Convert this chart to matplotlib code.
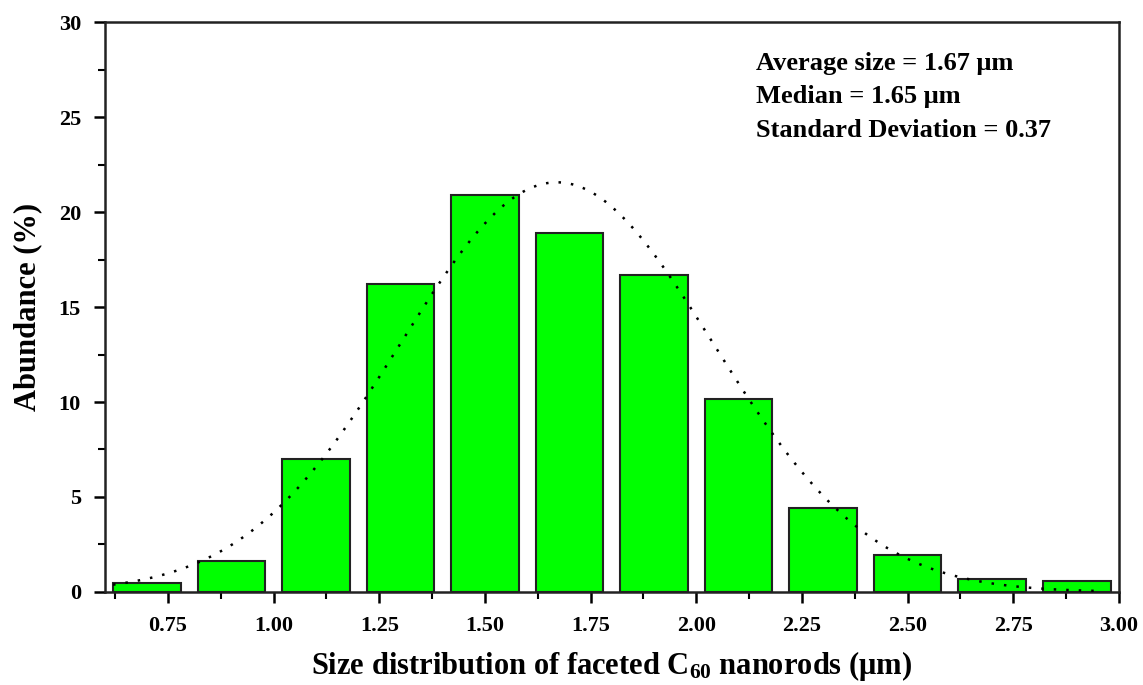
import numpy as np
import matplotlib.pyplot as plt
from matplotlib.ticker import MultipleLocator

plt.rcParams['font.family'] = ['Liberation Serif', 'DejaVu Serif']
plt.rcParams['font.weight'] = 'bold'
plt.rcParams['mathtext.fontset'] = 'custom'
plt.rcParams['mathtext.rm'] = 'Liberation Serif:bold'
plt.rcParams['mathtext.bf'] = 'Liberation Serif:bold'
plt.rcParams['mathtext.it'] = 'Liberation Serif:bold'

# histogram of rod sizes (bin centres in um, abundance in %)
bin_centers = [0.7, 0.9, 1.1, 1.3, 1.5, 1.7, 1.9, 2.1, 2.3, 2.5, 2.7, 2.9]
abundance = [0.47, 1.63, 7.0, 16.2, 20.9, 18.9, 16.7, 10.15, 4.42, 1.95, 0.68, 0.57]
bin_width = 0.2

# normal fit from the stated statistics
fit_mean = 1.67
fit_sd = 0.37

fig = plt.figure(figsize=(11.43, 6.85), dpi=100)
ax = fig.add_axes([0.0915, 0.1358, 0.8875, 0.832])

ax.bar(bin_centers, abundance, width=0.16, color='#00ff00', edgecolor='#222222',
       linewidth=1.5, zorder=2)

xs = np.linspace(0.62, 2.96, 300)
ys = 100 * bin_width / (fit_sd * np.sqrt(2 * np.pi)) * np.exp(-(xs - fit_mean) ** 2 / (2 * fit_sd ** 2))
ax.plot(xs, ys, color='black', linestyle=(0, (1, 4)), linewidth=1.8, zorder=3)

ax.set_xlim(0.6, 3.0)
ax.set_ylim(0, 30)
ax.xaxis.set_minor_locator(MultipleLocator(0.125))
ax.yaxis.set_major_locator(MultipleLocator(5))
ax.yaxis.set_minor_locator(MultipleLocator(2.5))
ax.set_xticks([0.75, 1.0, 1.25, 1.5, 1.75, 2.0, 2.25, 2.5, 2.75, 3.0])
ax.set_xticklabels(['0.75', '1.00', '1.25', '1.50', '1.75', '2.00', '2.25', '2.50', '2.75', '3.00'])

ax.tick_params(which='major', direction='out', length=8, width=1.8, labelsize=16, pad=9)
ax.tick_params(which='minor', direction='out', length=5, width=1.5)
for s in ax.spines.values():
    s.set_linewidth(1.8)
    s.set_color('#222222')

ax.set_xlabel('Size distribution of faceted C$_{60}$ nanorods (\u03bcm)',
              fontsize=22, fontweight='bold', labelpad=10)
ax.set_ylabel('Abundance (%)', fontsize=22, fontweight='bold', labelpad=12)

ax.text(0.6425, 0.948, 'Average size = 1.67 \u03bcm\nMedian = 1.65 \u03bcm\nStandard Deviation = 0.37',
        transform=ax.transAxes, fontsize=19, fontweight='bold', va='top', ha='left',
        linespacing=1.58)

plt.savefig('out.png', dpi=100)
